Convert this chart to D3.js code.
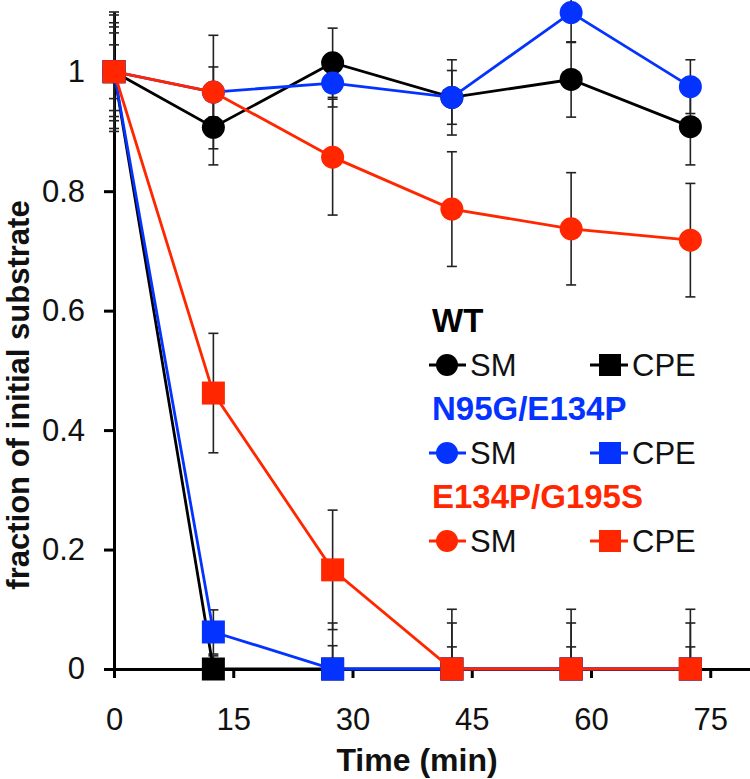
<!DOCTYPE html>
<html>
<head>
<meta charset="utf-8">
<script src="https://cdn.jsdelivr.net/npm/d3@7"></script>
<style>
  html, body { margin: 0; padding: 0; background: #fff; }
  svg { display: block; font-family: "Liberation Sans", Arial, sans-serif; }
</style>
</head>
<body>
<svg id="chart" width="750" height="779"></svg>
<script>
// ---- data ----
const times = [0, 12.5, 27.5, 42.5, 57.5, 72.5];
const xTicks = [0, 15, 30, 45, 60, 75];
const yTicks = [0, 0.2, 0.4, 0.6, 0.8, 1];

const wtSM      = [1, 0.907, 1.015, 0.957, 0.987, 0.908];
const wtSMErr   = [0.1, 0.063, 0.058, 0.063, 0.063, 0.064];
const wtCPE     = [1, 0, 0, 0, 0, 0];
const wtCPEErr  = [0.095, 0.022, 0.077, 0.077, 0.077, 0.077];

const n95SM     = [1, 0.966, 0.981, 0.957, 1.099, 0.975];
const n95SMErr  = [0.082, 0.095, 0.04, 0.045, 0.05, 0.045];
const n95CPE    = [1, 0.062, 0, 0, 0, 0];
const n95CPEErr = [0.075, 0.037, 0.039, 0.037, 0.037, 0.037];

const e134SM    = [1, 0.966, 0.857, 0.770, 0.737, 0.718];
const e134SMErr = [0.065, 0.042, 0.097, 0.096, 0.094, 0.095];
const e134CPE   = [1, 0.462, 0.166, 0, 0, 0];
const e134CPEErr= [0.045, 0.1, 0.1, 0.1, 0.1, 0.1];

const groupNames = ["WT", "N95G/E134P", "E134P/G195S"];
const groupColors = ["#000000", "#0433ff", "#ff2600"];
const substrateNames = ["SM", "CPE"];

const series = [
  {group: 0, kind: "SM",  vals: wtSM,    err: wtSMErr},
  {group: 0, kind: "CPE", vals: wtCPE,   err: wtCPEErr},
  {group: 1, kind: "SM",  vals: n95SM,   err: n95SMErr},
  {group: 1, kind: "CPE", vals: n95CPE,  err: n95CPEErr},
  {group: 2, kind: "SM",  vals: e134SM,  err: e134SMErr},
  {group: 2, kind: "CPE", vals: e134CPE, err: e134CPEErr}
];

// ---- layout ----
const svg = d3.select("#chart");
const x = d3.scaleLinear().domain([0, 80]).range([114, 750]);
const y = d3.scaleLinear().domain([0, 1.1]).range([669, 12]);

const R = 11.5, SQ = 23;

// axes
const yAxis = d3.axisLeft(y).tickValues(yTicks).tickFormat(d3.format("~g"))
  .tickSize(10).tickSizeOuter(0).tickPadding(19);
const xAxis = d3.axisBottom(x).tickValues(xTicks).tickFormat(d3.format("d"))
  .tickSize(9).tickSizeOuter(0).tickPadding(30);

const gy = svg.append("g").attr("transform", `translate(${x(0)},0)`).call(yAxis);
const gx = svg.append("g").attr("transform", `translate(0,${y(0)})`).call(xAxis);
[gx, gy].forEach(g => {
  g.selectAll("path, line").attr("stroke", "#000").attr("stroke-width", 3);
  g.selectAll("text").attr("fill", "#111").style("font-size", "31px")
    .style("font-family", '"Liberation Sans", Arial, sans-serif');
});

// axis titles
svg.append("text").attr("x", 417).attr("y", 771).attr("text-anchor", "middle")
  .style("font-size", "32px").style("font-weight", "bold").attr("fill", "#111")
  .text("Time (min)");
svg.append("text").attr("transform", "translate(29,395) rotate(-90)")
  .attr("text-anchor", "middle")
  .style("font-size", "31px").style("font-weight", "bold").attr("fill", "#111")
  .text("fraction of initial substrate");

// error bars (drawn beneath)
const eb = svg.append("g").attr("stroke", "#222").attr("stroke-width", 1.6);
series.forEach(s => {
  times.forEach((t, i) => {
    const v = s.vals[i], e = s.err[i];
    const lo = Math.max(0, v - e), hi = v + e;
    const cx = x(t);
    eb.append("line").attr("x1", cx).attr("x2", cx).attr("y1", y(lo)).attr("y2", y(hi));
    eb.append("line").attr("x1", cx - 5).attr("x2", cx + 5).attr("y1", y(hi)).attr("y2", y(hi));
    if (v - e > 0) {
      eb.append("line").attr("x1", cx - 5).attr("x2", cx + 5).attr("y1", y(lo)).attr("y2", y(lo));
    }
  });
});

// series lines and markers
const line = d3.line().x((d, i) => x(times[i])).y(d => y(d));
series.forEach(s => {
  const col = groupColors[s.group];
  const g = svg.append("g");
  g.append("path").datum(s.vals).attr("d", line).attr("fill", "none")
    .attr("stroke", col).attr("stroke-width", 2.8);
  if (s.kind === "SM") {
    g.selectAll("circle").data(s.vals).join("circle")
      .attr("cx", (d, i) => x(times[i])).attr("cy", d => y(d)).attr("r", R).attr("fill", col);
  } else {
    g.selectAll("rect").data(s.vals).join("rect")
      .attr("x", (d, i) => x(times[i]) - SQ / 2).attr("y", d => y(d) - SQ / 2)
      .attr("width", SQ).attr("height", SQ).attr("fill", col);
  }
});

// legend
const leg = svg.append("g");
const titleBase = [332, 420, 508];
groupNames.forEach((name, gi) => {
  const col = groupColors[gi];
  leg.append("text").attr("x", 432).attr("y", titleBase[gi])
    .style("font-size", "33px").style("font-weight", "bold").attr("fill", col).text(name);
  const cy = titleBase[gi] + 33;
  // SM entry
  leg.append("line").attr("x1", 429).attr("x2", 466).attr("y1", cy).attr("y2", cy)
    .attr("stroke", col).attr("stroke-width", 2.8);
  leg.append("circle").attr("cx", 447).attr("cy", cy).attr("r", 11).attr("fill", col);
  leg.append("text").attr("x", 470).attr("y", cy + 11).style("font-size", "31px")
    .attr("fill", "#111").text(substrateNames[0]);
  // CPE entry
  leg.append("line").attr("x1", 590).attr("x2", 628).attr("y1", cy).attr("y2", cy)
    .attr("stroke", col).attr("stroke-width", 2.8);
  leg.append("rect").attr("x", 610 - 11).attr("y", cy - 11).attr("width", 22).attr("height", 22)
    .attr("fill", col);
  leg.append("text").attr("x", 632).attr("y", cy + 11).style("font-size", "31px")
    .attr("fill", "#111").text(substrateNames[1]);
});
</script>
</body>
</html>
